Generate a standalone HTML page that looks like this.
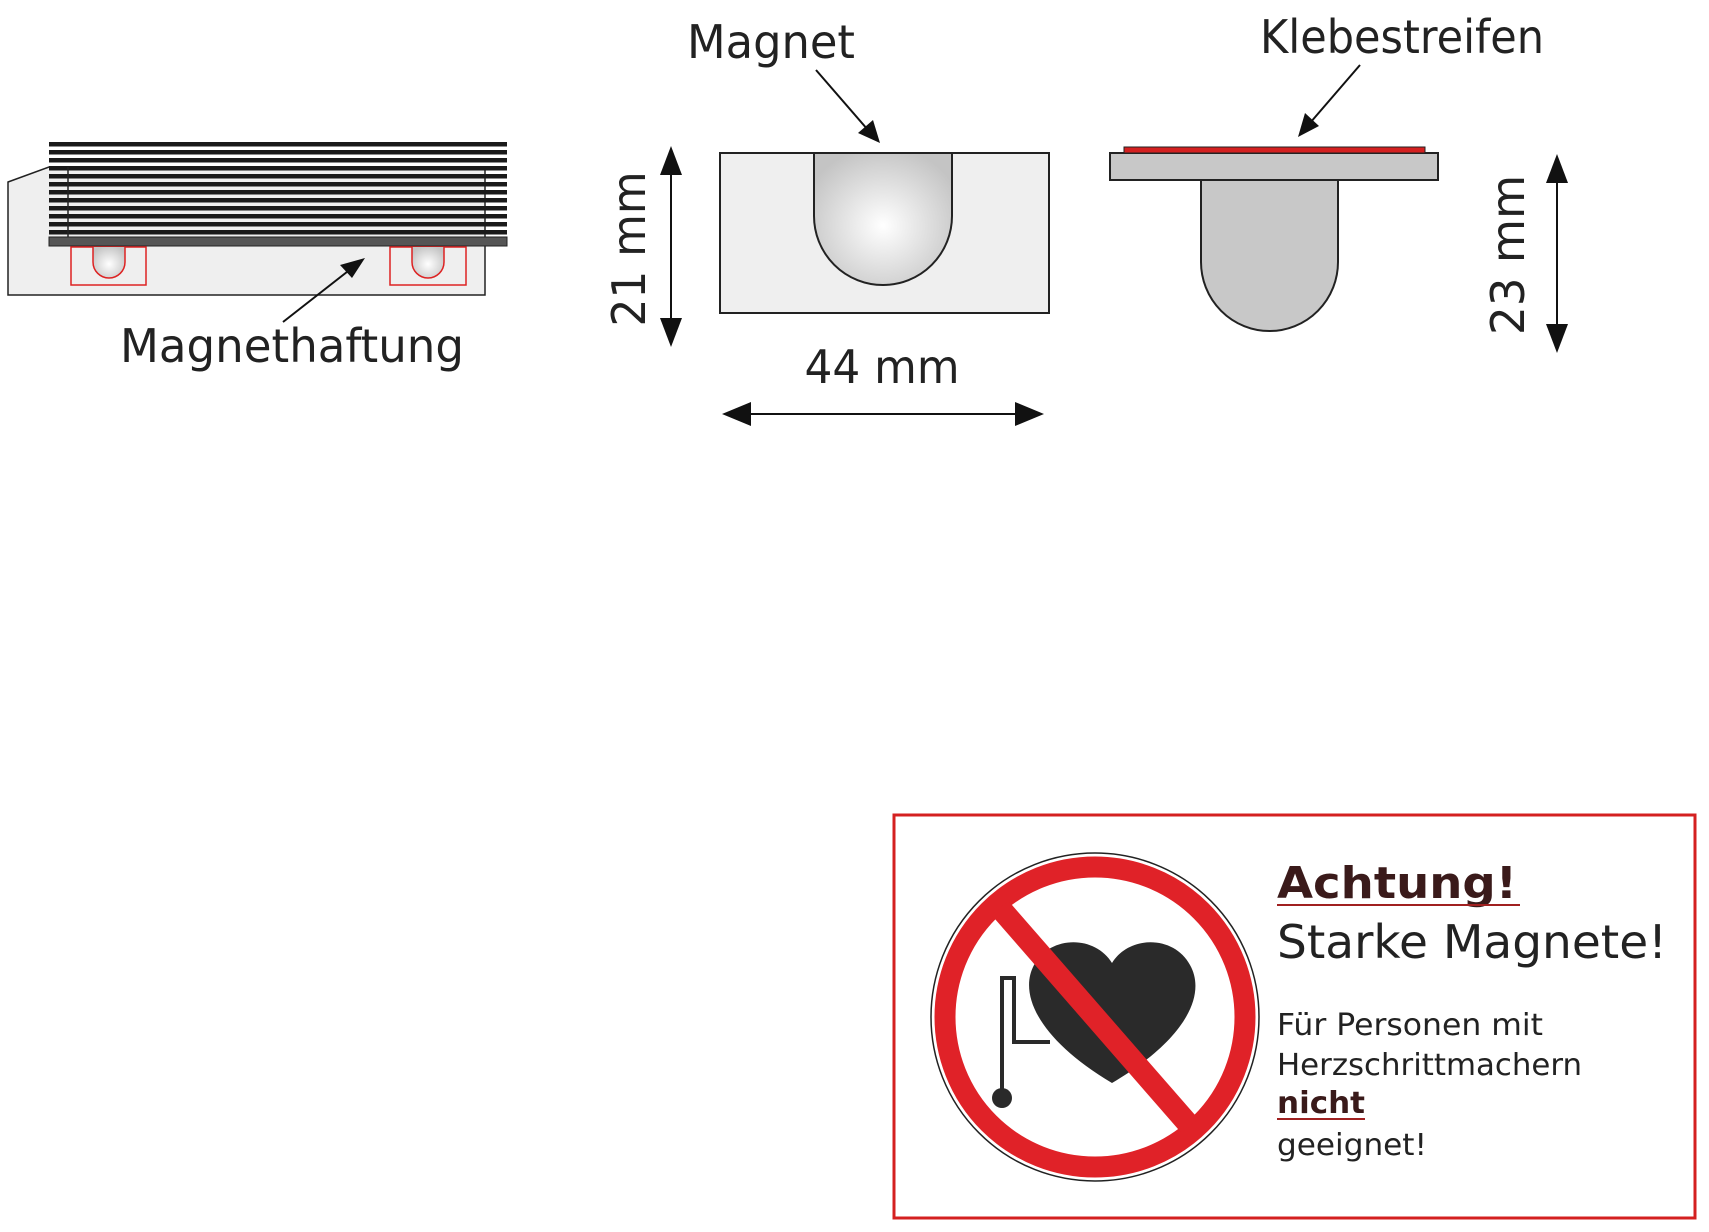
<!DOCTYPE html>
<html><head><meta charset="utf-8"><style>
html,body{margin:0;padding:0;background:#fff;}
svg{display:block;}
text{font-family:"DejaVu Sans","Liberation Sans",sans-serif;fill:#222;}
</style></head><body>
<svg width="1709" height="1232" viewBox="0 0 1709 1232" xmlns="http://www.w3.org/2000/svg">
<defs>
<radialGradient id="mg" cx="0.5" cy="0.55" r="0.6">
<stop offset="0" stop-color="#fff"/><stop offset="1" stop-color="#c4c4c4"/>
</radialGradient>
</defs>
<!-- Left figure -->
<polygon points="8,182 49,167 485,167 485,295 8,295" fill="#efefef" stroke="#222" stroke-width="1.5"/>
<g fill="#1a1a1a">
<rect x="49" y="142" width="458" height="4.5"/><rect x="49" y="150" width="458" height="4.5"/>
<rect x="49" y="158" width="458" height="4.5"/><rect x="49" y="166" width="458" height="4.5"/>
<rect x="49" y="174" width="458" height="4.5"/><rect x="49" y="182" width="458" height="4.5"/>
<rect x="49" y="190" width="458" height="4.5"/><rect x="49" y="198" width="458" height="4.5"/>
<rect x="49" y="206" width="458" height="4.5"/><rect x="49" y="214" width="458" height="4.5"/>
<rect x="49" y="222" width="458" height="4.5"/><rect x="49" y="230" width="458" height="4.5"/>
</g>
<line x1="68" y1="167" x2="68" y2="238" stroke="#222" stroke-width="1.5"/>
<rect x="49" y="237" width="458" height="9" fill="#555" stroke="#222" stroke-width="1"/>
<rect x="71" y="247" width="75" height="38" fill="none" stroke="#d22" stroke-width="1.5"/>
<rect x="390" y="247" width="76" height="38" fill="none" stroke="#d22" stroke-width="1.5"/>
<path d="M93,247 L93,262 A16,16 0 0 0 125,262 L125,247" fill="url(#mg)" stroke="#d22" stroke-width="1.5"/>
<path d="M412,247 L412,262 A16,16 0 0 0 444,262 L444,247" fill="url(#mg)" stroke="#d22" stroke-width="1.5"/>
<line x1="283" y1="322" x2="352" y2="268" stroke="#111" stroke-width="2"/>
<polygon points="365,258 340,265 352,278" fill="#111"/>
<text x="120" y="362" font-size="46" textLength="344" lengthAdjust="spacingAndGlyphs">Magnethaftung</text>

<!-- Middle figure -->
<rect x="720" y="153" width="329" height="160" fill="#efefef" stroke="#222" stroke-width="2"/>
<path d="M814,153 L814,216 A69,69 0 0 0 952,216 L952,153 Z" fill="url(#mg)" stroke="#222" stroke-width="2"/>
<text x="687" y="58" font-size="46" textLength="168" lengthAdjust="spacingAndGlyphs">Magnet</text>
<line x1="816" y1="70" x2="868" y2="130" stroke="#111" stroke-width="2"/>
<polygon points="880,143 873,120 858,133" fill="#111"/>
<line x1="671" y1="165" x2="671" y2="328" stroke="#111" stroke-width="2"/>
<polygon points="671,146 660,175 682,175" fill="#111"/>
<polygon points="671,347 660,318 682,318" fill="#111"/>
<text x="0" y="0" font-size="46" transform="translate(645,249) rotate(-90)" text-anchor="middle" textLength="155" lengthAdjust="spacingAndGlyphs">21 mm</text>
<text x="882" y="383" font-size="46" text-anchor="middle" textLength="155" lengthAdjust="spacingAndGlyphs">44 mm</text>
<line x1="740" y1="414" x2="1026" y2="414" stroke="#111" stroke-width="2"/>
<polygon points="722,414 751,402 751,426" fill="#111"/>
<polygon points="1044,414 1015,402 1015,426" fill="#111"/>

<!-- Right figure -->
<path d="M1201,180 L1201,262 A68.5,69 0 0 0 1338,262 L1338,180 Z" fill="#c8c8c8" stroke="#222" stroke-width="2"/>
<rect x="1110" y="153" width="328" height="27" fill="#c8c8c8" stroke="#222" stroke-width="2"/>
<rect x="1124" y="147" width="301" height="6" fill="#d42020" stroke="#222" stroke-width="1"/>
<text x="1260" y="53" font-size="46" textLength="284" lengthAdjust="spacingAndGlyphs">Klebestreifen</text>
<line x1="1360" y1="65" x2="1310" y2="123" stroke="#111" stroke-width="2"/>
<polygon points="1298,137 1305,113 1319,126" fill="#111"/>
<line x1="1557" y1="172" x2="1557" y2="335" stroke="#111" stroke-width="2"/>
<polygon points="1557,154 1546,183 1568,183" fill="#111"/>
<polygon points="1557,353 1546,324 1568,324" fill="#111"/>
<text x="0" y="0" font-size="46" transform="translate(1524,255) rotate(-90)" text-anchor="middle" textLength="160" lengthAdjust="spacingAndGlyphs">23 mm</text>

<!-- Warning box -->
<rect x="894" y="815" width="801" height="403" fill="#fff" stroke="#d42020" stroke-width="3"/>
<circle cx="1095" cy="1017" r="164" fill="#fff" stroke="#222" stroke-width="1.5"/>
<path d="M1112,963 C1095,935 1050,935 1034,965 C1018,995 1040,1040 1112,1083 C1185,1040 1207,995 1190,965 C1174,935 1129,935 1112,963 Z" fill="#2a2a2a"/>
<path d="M1002,1098 L1002,978 L1014,978 L1014,1042 L1050,1042" fill="none" stroke="#2a2a2a" stroke-width="4"/>
<circle cx="1002" cy="1098" r="10" fill="#2a2a2a"/>
<circle cx="1095" cy="1017" r="150" fill="none" stroke="#e02228" stroke-width="21"/>
<line x1="1000" y1="908" x2="1190" y2="1126" stroke="#e02228" stroke-width="22"/>
<text x="1277" y="898" font-size="44" font-weight="bold" style="fill:#3a1a1a" textLength="240" lengthAdjust="spacingAndGlyphs">Achtung!</text>
<rect x="1277" y="904" width="243" height="2" fill="#a02020"/>
<text x="1277" y="958" font-size="46" textLength="390" lengthAdjust="spacingAndGlyphs">Starke Magnete!</text>
<text x="1277" y="1035" font-size="30" textLength="266" lengthAdjust="spacingAndGlyphs">Für Personen mit</text>
<text x="1277" y="1075" font-size="30" textLength="305" lengthAdjust="spacingAndGlyphs">Herzschrittmachern</text>
<text x="1277" y="1113" font-size="30" font-weight="bold" style="fill:#3a1a1a" textLength="88" lengthAdjust="spacingAndGlyphs">nicht</text>
<rect x="1277" y="1118" width="88" height="2" fill="#a02020"/>
<text x="1277" y="1155" font-size="30" textLength="150" lengthAdjust="spacingAndGlyphs">geeignet!</text>
</svg>
</body></html>
